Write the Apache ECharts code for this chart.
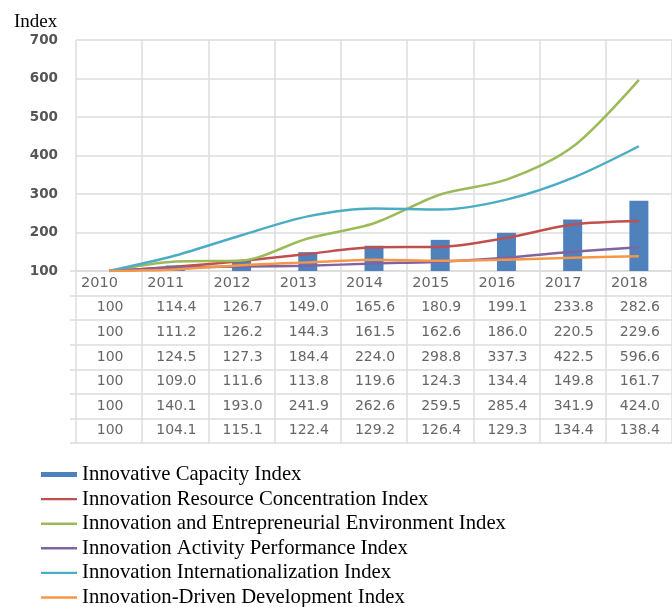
<!DOCTYPE html>
<html>
<head>
<meta charset="utf-8">
<script src="https://cdn.jsdelivr.net/npm/echarts@6/dist/echarts.min.js"></script>
<style>
  html, body { margin: 0; padding: 0; background: #fff; }
  #chart { width: 672px; height: 607px; }
</style>
</head>
<body>
<div id="chart"></div>
<script>
// data
var years = ['2010', '2011', '2012', '2013', '2014', '2015', '2016', '2017', '2018'];
var capacity = [100, 114.4, 126.7, 149.0, 165.6, 180.9, 199.1, 233.8, 282.6];
var resource = [100, 111.2, 126.2, 144.3, 161.5, 162.6, 186.0, 220.5, 229.6];
var environment = [100, 124.5, 127.3, 184.4, 224.0, 298.8, 337.3, 422.5, 596.6];
var activity = [100, 109.0, 111.6, 113.8, 119.6, 124.3, 134.4, 149.8, 161.7];
var international = [100, 140.1, 193.0, 241.9, 262.6, 259.5, 285.4, 341.9, 424.0];
var driven = [100, 104.1, 115.1, 122.4, 129.2, 126.4, 129.3, 134.4, 138.4];
var names = [
  'Innovative Capacity Index',
  'Innovation Resource Concentration Index',
  'Innovation and Entrepreneurial Environment Index',
  'Innovation Activity Performance Index',
  'Innovation Internationalization Index',
  'Innovation-Driven Development Index'
];
var colors = ['#4F81BD', '#C0504D', '#9BBB59', '#8064A2', '#4BACC6', '#F79646'];
var rows = [capacity, resource, environment, activity, international, driven];

var gridColor = '#dcdcdc';
var textColor = '#404040';
var lineIcon = 'path://M0,0 L36,0 L36,2.4 L0,2.4 Z';

// table cells: [column, row] in the lower grid
var headerCells = years.map(function (y, i) { return [i, 0, y]; });
var valueCells = [];
rows.forEach(function (r, ri) {
  r.forEach(function (v, i) { valueCells.push([i, ri + 1, v]); });
});

var lineSeries = [];
for (var k = 1; k < rows.length; k++) {
  lineSeries.push({
    name: names[k],
    type: 'line',
    data: rows[k],
    smooth: 0.3,
    symbol: 'none',
    lineStyle: { width: 2.5, color: colors[k] },
    itemStyle: { color: colors[k] },
    z: 3
  });
}

var legendData = names.map(function (n, i) {
  return { name: n, icon: i === 0 ? 'rect' : lineIcon };
});

var chart = echarts.init(document.getElementById('chart'));
var option = {
  animation: false,
  title: {
    text: 'Index',
    left: 9,
    top: 8,
    textStyle: { fontFamily: 'Liberation Serif', fontSize: 19, fontWeight: 'normal', color: '#000' }
  },
  legend: {
    orient: 'vertical',
    left: 41,
    top: 464,
    height: 170,
    padding: 0,
    itemWidth: 36,
    itemHeight: 5,
    itemGap: 3.6,
    textStyle: { fontFamily: 'Liberation Serif', fontSize: 20.7, lineHeight: 20, color: '#000' },
    data: legendData
  },
  grid: [
    { left: 76, top: 40, width: 605.6, height: 231 },
    { left: 76, top: 271, width: 605.6, height: 172 }
  ],
  xAxis: [
    {
      type: 'category', gridIndex: 0, data: years,
      axisLine: { show: false }, axisTick: { show: false }, axisLabel: { show: false },
      splitLine: { show: true, interval: 0, lineStyle: { color: gridColor, width: 1.5 } }
    },
    {
      type: 'category', gridIndex: 1, data: years,
      axisLine: { show: false }, axisTick: { show: false }, axisLabel: { show: false },
      splitLine: { show: true, interval: 0, lineStyle: { color: gridColor, width: 1.5 } }
    }
  ],
  yAxis: [
    {
      type: 'value', gridIndex: 0, min: 100, max: 700, interval: 100,
      axisLine: { show: false }, axisTick: { show: false },
      axisLabel: { margin: 18, fontFamily: 'DejaVu Sans', fontSize: 13.5, fontWeight: 'bold', color: '#555' },
      splitLine: { lineStyle: { color: gridColor, width: 1.5 } }
    },
    {
      type: 'category', gridIndex: 1, inverse: true,
      data: ['years'].concat(names),
      axisLine: { show: false },
      axisTick: { show: true, length: 6, interval: 0, lineStyle: { color: gridColor, width: 1.5 } },
      axisLabel: { show: false },
      splitLine: { show: true, interval: 0, lineStyle: { color: gridColor, width: 1.5 } }
    }
  ],
  series: [
    {
      name: names[0],
      type: 'bar',
      data: capacity,
      barWidth: 19,
      itemStyle: { color: colors[0] },
      z: 2
    }
  ].concat(lineSeries).concat([
    {
      name: 'header',
      type: 'scatter',
      xAxisIndex: 1, yAxisIndex: 1,
      data: headerCells,
      symbolSize: 1,
      itemStyle: { color: 'rgba(0,0,0,0)' },
      label: {
        show: true, position: 'inside', align: 'left', offset: [-28, 0],
        fontFamily: 'DejaVu Sans', fontSize: 14.5, color: textColor,
        formatter: function (p) { return p.data[2]; }
      }
    },
    {
      name: 'values',
      type: 'scatter',
      xAxisIndex: 1, yAxisIndex: 1,
      data: valueCells,
      symbolSize: 1,
      itemStyle: { color: 'rgba(0,0,0,0)' },
      label: {
        show: true, position: 'inside', offset: [1, 0],
        fontFamily: 'DejaVu Sans', fontSize: 14, color: textColor,
        formatter: function (p) {
          var v = p.data[2];
          return v === 100 ? '100' : v.toFixed(1);
        }
      }
    }
  ])
};
chart.setOption(option);
</script>
</body>
</html>
